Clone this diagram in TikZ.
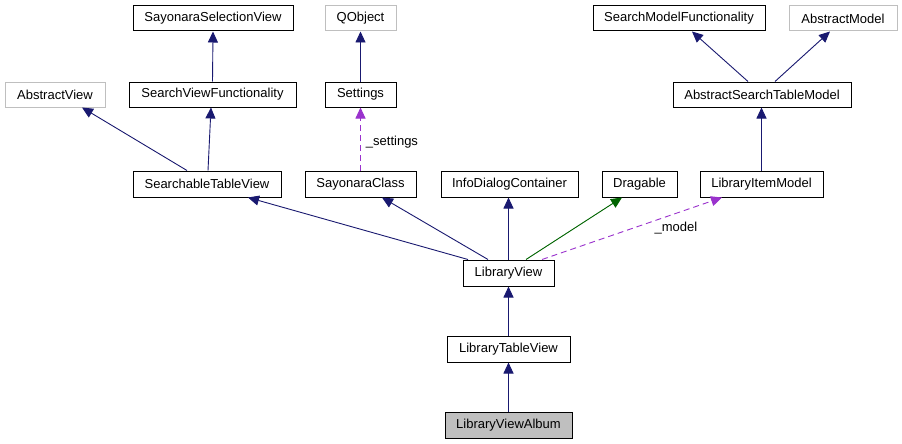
\documentclass[tikz,border=0pt]{standalone}
\usepackage{fontspec}
\setmainfont{Liberation Sans}
\usetikzlibrary{arrows.meta}
\definecolor{edgeblue}{HTML}{191970}
\definecolor{edgegreen}{HTML}{006400}
\definecolor{edgepurple}{HTML}{9A32CD}
\definecolor{lightborder}{HTML}{BFBFBF}
\definecolor{selfill}{HTML}{BFBFBF}
\begin{document}
\begin{tikzpicture}[x=1pt,y=-1pt,
  cls/.style={draw=black,line width=1pt,fill=white,inner sep=0pt,font=\fontsize{13}{15}\selectfont,anchor=center},
  ext/.style={cls,draw=lightborder},
  cur/.style={cls,fill=selfill},
  inh/.style={draw=edgeblue,line width=0.9pt,-{Triangle[length=11pt,width=10pt]}},
  inhg/.style={draw=edgegreen,fill=edgegreen,line width=0.9pt,-{Triangle[length=11pt,width=10pt]}},
  usage/.style={draw=edgepurple,line width=0.9pt,dash pattern=on 6pt off 4pt,-{Triangle[length=11pt,width=10pt,fill=edgepurple]}},
  lbl/.style={font=\fontsize{13}{15}\selectfont,inner sep=0pt}
]
\useasboundingbox (0,0) rectangle (902,444);
\fill[white] (0,0) rectangle (902,444);

% row 1
\node[cls,minimum width=160pt,minimum height=25pt] (ssv) at (213,18.5) {SayonaraSelectionView};
\node[ext,minimum width=71pt,minimum height=25pt] (qobj) at (360.5,18.5) {QObject};
\node[cls,minimum width=172pt,minimum height=25pt] (smf) at (679,18.5) {SearchModelFunctionality};
\node[ext,minimum width=108pt,minimum height=25pt] (am) at (843,18.5) {AbstractModel};
% row 2
\node[ext,minimum width=100pt,minimum height=25pt] (av) at (55,94.5) {AbstractView};
\node[cls,minimum width=167pt,minimum height=25pt] (svf) at (212.5,94.5) {SearchViewFunctionality};
\node[cls,minimum width=71pt,minimum height=25pt] (set) at (360.5,94.5) {Settings};
\node[cls,minimum width=178pt,minimum height=25pt] (astm) at (762,94.5) {AbstractSearchTableModel};
% row 3
\node[cls,minimum width=148pt,minimum height=26pt] (stv) at (207,184) {SearchableTableView};
\node[cls,minimum width=111pt,minimum height=26pt] (sc) at (360.5,184) {SayonaraClass};
\node[cls,minimum width=137pt,minimum height=26pt] (idc) at (509.5,184) {InfoDialogContainer};
\node[cls,minimum width=75pt,minimum height=26pt] (drag) at (639.5,184) {Dragable};
\node[cls,minimum width=123pt,minimum height=26pt] (lim) at (761.5,184) {LibraryItemModel};
% lower rows
\node[cls,minimum width=91pt,minimum height=26pt] (lv) at (508.5,273) {LibraryView};
\node[cls,minimum width=123pt,minimum height=26pt] (ltv) at (508.5,349) {LibraryTableView};
\node[cur,minimum width=127pt,minimum height=26pt] (lva) at (508.5,425) {LibraryViewAlbum};

% edges
\draw[inh] (svf.north) -- (ssv.south);
\draw[inh] ([xshift=-20pt]stv.north) -- ([xshift=27pt]av.south);
\draw[inh] ([xshift=1pt]stv.north) -- ([xshift=-1.5pt]svf.south);
\draw[inh] (set.north) -- (qobj.south);
\draw[usage] (sc.north) -- node[lbl,right=5pt,pos=0.45] (lset) {\_settings} (set.south);
\draw[inh] ([xshift=-40.5pt]lv.north) -- ([xshift=41pt]stv.south);
\draw[inh] ([xshift=-20.5pt]lv.north) -- ([xshift=21.5pt]sc.south);
\draw[inh] (lv.north) -- (idc.south -| lv.north);
\draw[inhg] ([xshift=17.5pt]lv.north) -- ([xshift=-17.5pt]drag.south);
\draw[usage] ([xshift=33.5pt]lv.north) -- ([xshift=-39.5pt]lim.south);
\node[lbl] (lmod) at (676,228) {\_model};
\draw[inh] ([xshift=-14pt]astm.north) -- ([xshift=13pt]smf.south);
\draw[inh] ([xshift=13pt]astm.north) -- ([xshift=-13pt]am.south);
\draw[inh] (lim.north) -- (astm.south -| lim.north);
\draw[inh] (ltv.north) -- (lv.south);
\draw[inh] (lva.north) -- (ltv.south);
\end{tikzpicture}
\end{document}
